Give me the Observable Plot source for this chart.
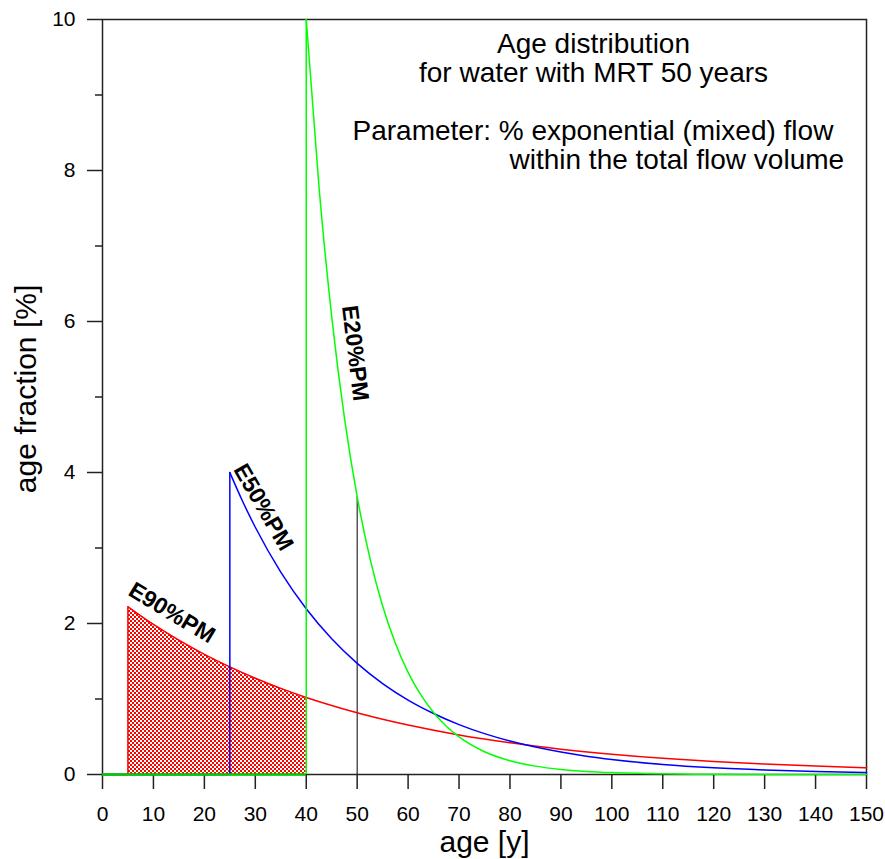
<!DOCTYPE html>
<html>
<head>
<meta charset="utf-8">
<script src="https://cdn.jsdelivr.net/npm/d3@7"></script>
<script src="https://cdn.jsdelivr.net/npm/@observablehq/plot@0.6"></script>
<style>
  html, body { margin: 0; padding: 0; background: #fff; }
  #chart svg { display: block; }
</style>
</head>
<body>
<div id="chart"></div>
<script>
// ---- data ----
// E90%PM (90% exponential, piston part ends at 5 y)
const e90Age   = [5, 10, 15, 20, 25, 30, 35, 40, 45, 50, 55, 60, 70, 80, 90, 100, 110, 120, 130, 140, 150];
const e90Value = [2.222, 1.988, 1.779, 1.592, 1.425, 1.275, 1.141, 1.021, 0.914, 0.817, 0.732, 0.655, 0.524, 0.420, 0.336, 0.269, 0.215, 0.173, 0.138, 0.111, 0.089];
// E50%PM (starts at 25 y)
const e50Age   = [25, 27.5, 30, 35, 40, 45, 50, 55, 60, 65, 70, 75, 80, 85, 90, 95, 100, 110, 120, 130, 140, 150];
const e50Value = [4.0, 3.619, 3.275, 2.681, 2.195, 1.797, 1.472, 1.205, 0.986, 0.808, 0.661, 0.541, 0.443, 0.363, 0.297, 0.243, 0.199, 0.133, 0.089, 0.060, 0.040, 0.027];
// E20%PM (starts at 40 y)
const e20Age   = [40, 42.5, 45, 47.5, 50, 52.5, 55, 57.5, 60, 62.5, 65, 67.5, 70, 75, 80, 85, 90, 95, 100, 110, 120, 130, 140, 150];
const e20Value = [10.0, 7.788, 6.065, 4.724, 3.679, 2.865, 2.231, 1.738, 1.353, 1.054, 0.821, 0.639, 0.498, 0.302, 0.183, 0.111, 0.067, 0.041, 0.025, 0.009, 0.003, 0.001, 0.0005, 0.0];

// piston-flow start (vertical jump) for each curve
const seriesNames = ["E90%PM", "E50%PM", "E20%PM"];
const startAge    = [5, 25, 40];
const startPeak   = [2.222, 4.0, 10.0];
const seriesColor = ["#ff0000", "#0000ff", "#00ff00"];

// MRT marker
const mrtAge = [50];
const mrtValue = [3.679];

// shaded area (E90 curve, 5..40 y)
const shadeEnd = 40;

// curve labels
const labelAge   = [13.6, 31.6, 49.6];
const labelValue = [2.14, 3.54, 5.58];
const labelAngle = [31, 60, 83];

// axis ticks
const xTicks = [0, 10, 20, 30, 40, 50, 60, 70, 80, 90, 100, 110, 120, 130, 140, 150];
const yMajor = [0, 2, 4, 6, 8, 10];
const yMinor = [1, 3, 5, 7, 9];

// annotation text
const titleLines = ["Age distribution", "for water with MRT 50 years"];
const paramLines = ["Parameter: % exponential (mixed) flow", "within the total flow volume"];

// ---- tables ----
const zip = (a, v, name) => a.map((x, i) => ({age: x, value: v[i], name}));
const e90 = zip(e90Age, e90Value, "E90%PM");
const e50 = zip(e50Age, e50Value, "E50%PM");
const e20 = zip(e20Age, e20Value, "E20%PM");
const shade = e90.filter(d => d.age <= shadeEnd);
const starts = seriesNames.map((n, i) => ({name: n, age: startAge[i], peak: startPeak[i], color: seriesColor[i]}));
const labels = seriesNames.map((n, i) => ({name: n, age: labelAge[i], value: labelValue[i], angle: labelAngle[i]}));
const mrt = mrtAge.map((a, i) => ({age: a, value: mrtValue[i]}));

const font = "'Liberation Sans', Arial, sans-serif";

const plot = Plot.plot({
  width: 885,
  height: 859,
  marginLeft: 102,
  marginRight: 19,
  marginTop: 19,
  marginBottom: 85,
  style: {fontFamily: font, background: "#fff"},
  x: {domain: [0, 150], label: null},
  y: {domain: [0, 10], label: null},
  marks: [
    // hatched area
    Plot.areaY(shade, {x: "age", y: "value", fill: "url(#xhatch)", curve: "monotone-x"}),
    // axes
    Plot.axisX({ticks: xTicks, tickSize: 15, tickPadding: 17, fontSize: 21, stroke: "#222", strokeWidth: 1.5, label: null}),
    Plot.axisY({ticks: yMajor, tickSize: 15, tickPadding: 12, fontSize: 21, stroke: "#222", strokeWidth: 1.5, label: null}),
    Plot.axisY({ticks: yMinor, tickSize: 7, tickFormat: () => "", stroke: "#222", strokeWidth: 1.5, label: null}),
    Plot.frame({stroke: "#222", strokeWidth: 1.5}),
    // MRT marker
    Plot.ruleX(mrt, {x: "age", y1: 0, y2: "value", stroke: "#000", strokeWidth: 1}),
    // red
    Plot.ruleY([0], {x1: 0, x2: startAge[0], stroke: seriesColor[0], strokeWidth: 1.5}),
    Plot.ruleX([starts[0]], {x: "age", y1: 0, y2: "peak", stroke: "color", strokeWidth: 1.5}),
    Plot.line(e90, {x: "age", y: "value", stroke: seriesColor[0], strokeWidth: 1.5, curve: "monotone-x"}),
    // blue
    Plot.ruleY([0], {x1: 0, x2: startAge[1], stroke: seriesColor[1], strokeWidth: 1.5}),
    Plot.ruleX([starts[1]], {x: "age", y1: 0, y2: "peak", stroke: "color", strokeWidth: 1.5}),
    Plot.line(e50, {x: "age", y: "value", stroke: seriesColor[1], strokeWidth: 1.5, curve: "monotone-x"}),
    // green
    Plot.line(e20, {x: "age", y: "value", stroke: seriesColor[2], strokeWidth: 1.5, curve: "monotone-x"}),
    Plot.ruleY([0], {x1: 0, x2: startAge[2], stroke: "#00cc00", strokeWidth: 2.5}),
    Plot.ruleX([starts[2]], {x: "age", y1: 0, y2: "peak", stroke: "color", strokeWidth: 1.5}),
    // curve labels
    Plot.text(labels, {x: "age", y: "value", text: "name", rotate: "angle", fontSize: 23, fontWeight: "bold", fill: "#000"}),
    // annotations
    Plot.text([titleLines.join("\n")], {x: 96.4, y: 9.49, text: d => d, fontSize: 28, lineHeight: 1.04, textAnchor: "middle", fill: "#000"}),
    Plot.text([paramLines[0]], {x: (352 - 102) / 764 * 150, y: (774 - 131) / 75.5, text: d => d, fontSize: 28, textAnchor: "start", fill: "#000"}),
    Plot.text([paramLines[1]], {x: (509 - 102) / 764 * 150, y: (774 - 160) / 75.5, text: d => d, fontSize: 28, textAnchor: "start", fill: "#000"}),
    // axis titles
    Plot.text(["age [y]"], {frameAnchor: "bottom", dy: 68, text: d => d, fontSize: 30, textAnchor: "middle", lineAnchor: "middle", fill: "#000"}),
    Plot.text(["age fraction [%]"], {frameAnchor: "left", dx: -76, dy: -8, rotate: -90, text: d => d, fontSize: 30, textAnchor: "middle", lineAnchor: "middle", fill: "#000"})
  ]
});

// hatch pattern definition
const ns = "http://www.w3.org/2000/svg";
const defs = document.createElementNS(ns, "defs");
const pat = document.createElementNS(ns, "pattern");
pat.setAttribute("id", "xhatch");
pat.setAttribute("patternUnits", "userSpaceOnUse");
pat.setAttribute("width", 4);
pat.setAttribute("height", 4);
const bg = document.createElementNS(ns, "rect");
bg.setAttribute("width", 4); bg.setAttribute("height", 4); bg.setAttribute("fill", "#ff0000");
pat.appendChild(bg);
for (const [px, py] of [[0, 0], [2, 2]]) {
  const r = document.createElementNS(ns, "rect");
  r.setAttribute("x", px); r.setAttribute("y", py);
  r.setAttribute("width", 2); r.setAttribute("height", 2);
  r.setAttribute("fill", "#ffffff");
  pat.appendChild(r);
}
defs.appendChild(pat);
plot.insertBefore(defs, plot.firstChild);

document.getElementById("chart").appendChild(plot);
</script>
</body>
</html>
